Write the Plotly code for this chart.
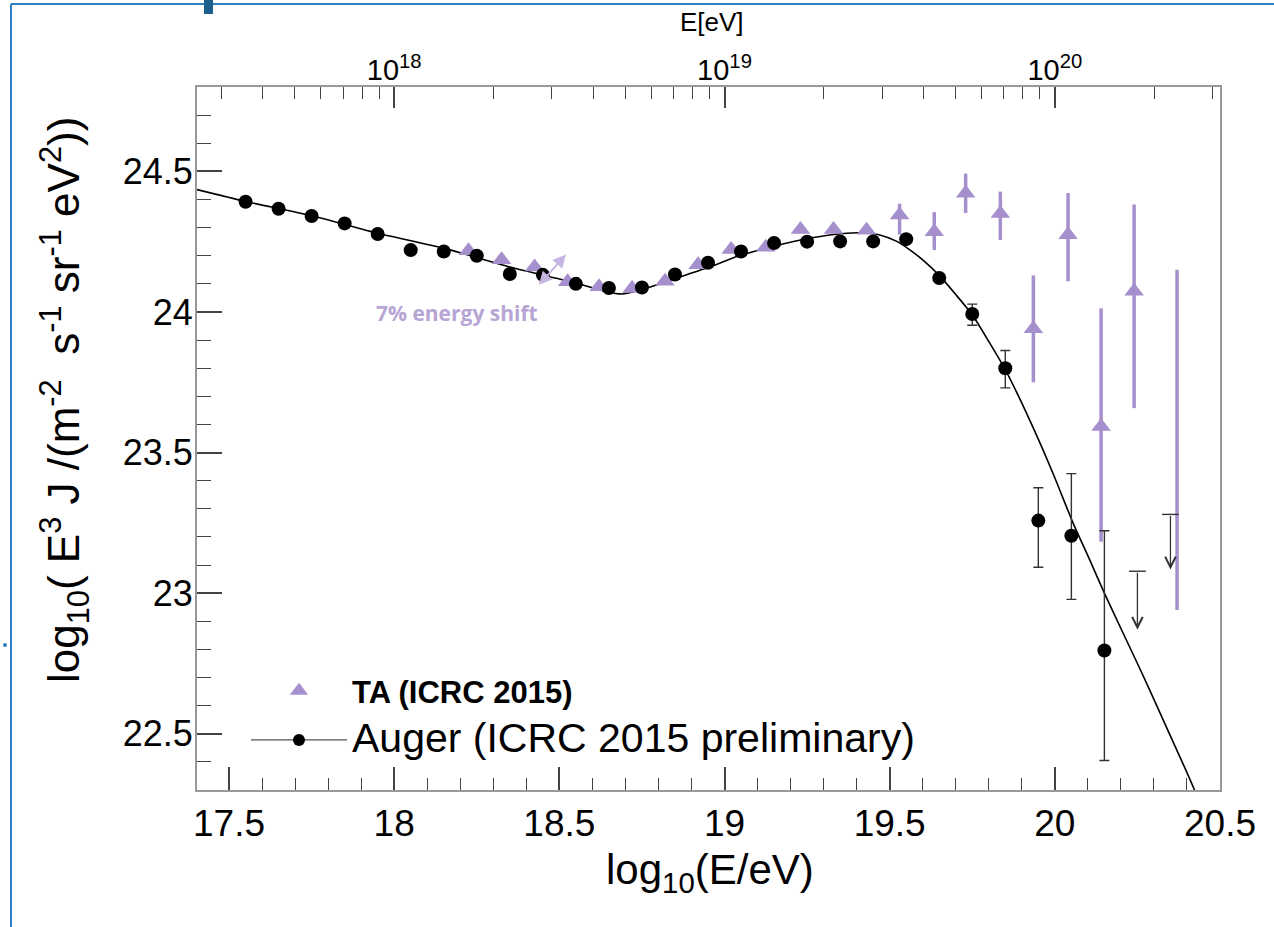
import numpy as np
import plotly.graph_objects as go

# ---------------- data ----------------
auger_x = [17.55, 17.65, 17.75, 17.85, 17.95, 18.05, 18.15, 18.25, 18.35, 18.45,
           18.55, 18.65, 18.75, 18.85, 18.95, 19.05, 19.15, 19.25, 19.35, 19.45,
           19.55, 19.65, 19.75, 19.85, 19.95, 20.05, 20.15]
auger_y = [24.392, 24.367, 24.341, 24.315, 24.277, 24.220, 24.215, 24.200, 24.135, 24.132,
           24.100, 24.085, 24.087, 24.133, 24.175, 24.215, 24.245, 24.250, 24.251, 24.251,
           24.259, 24.121, 23.993, 23.800, 23.258, 23.204, 22.796]
auger_err_up = [0]*22 + [0.035, 0.063, 0.117, 0.221, 0.426]
auger_err_dn = [0]*22 + [0.040, 0.070, 0.166, 0.226, 0.391]

auger_ul_x = [20.25, 20.35]
auger_ul_y = [23.078, 23.280]
auger_ul_tip = [22.870, 23.084]

fit_x = [17.403, 17.55, 17.75, 17.95, 18.15, 18.35, 18.55, 18.64, 18.69, 18.74,
         18.84, 18.95, 19.04, 19.15, 19.26, 19.37, 19.42, 19.47, 19.52, 19.56,
         19.60, 19.65, 19.70, 19.75, 19.80, 19.85, 19.926, 19.993, 20.055, 20.105,
         20.15, 20.205, 20.26, 20.317, 20.373, 20.395, 20.423]
fit_y = [24.435, 24.393, 24.342, 24.280, 24.227, 24.160, 24.103, 24.073, 24.064, 24.076,
         24.115, 24.158, 24.198, 24.234, 24.263, 24.280, 24.281, 24.274, 24.252, 24.222,
         24.185, 24.130, 24.062, 23.990, 23.895, 23.795, 23.610, 23.430, 23.250, 23.120,
         23.000, 22.862, 22.725, 22.578, 22.432, 22.375, 22.300]

ta_x = [18.225, 18.325, 18.425, 18.525, 18.62, 18.72, 18.82, 18.92, 19.02, 19.125,
        19.23, 19.33, 19.43, 19.53, 19.635, 19.73, 19.835, 19.935, 20.04, 20.14,
        20.24, 20.37]
ta_y = [24.218, 24.186, 24.160, 24.107, 24.090, 24.083, 24.109, 24.168, 24.222, 24.230,
        24.293, 24.293, 24.291, 24.345, 24.285, 24.422, 24.350, 23.940, 24.275, 23.593,
        24.074, 23.545]
ta_err_up = [0]*13 + [0.04, 0.070, 0.070, 0.078, 0.190, 0.148, 0.420, 0.308, 0.605]
ta_err_dn = [0]*13 + [0.07, 0.065, 0.070, 0.094, 0.190, 0.166, 0.410, 0.416, 0.605]
ta_marker_opacity = [1]*21 + [0]

x_major = [17.5, 18.0, 18.5, 19.0, 19.5, 20.0, 20.5]
x_major_text = ["17.5", "18", "18.5", "19", "19.5", "20", "20.5"]
y_major = [22.5, 23.0, 23.5, 24.0, 24.5]
y_major_text = ["22.5", "23", "23.5", "24", "24.5"]
top_major = [18, 19, 20]
top_major_text = ["10<sup>18</sup>", "10<sup>19</sup>", "10<sup>20</sup>"]

X_RANGE = [17.403, 20.5]
Y_RANGE = [22.3, 24.8]

FONT = "Liberation Sans, Arial, Helvetica, sans-serif"
TA_COL = "#a58fcc"
FRAME = "#999999"
TICKC = "#444444"

# minor ticks of the top (log E) axis
top_minor = []
for dec in [17, 18, 19, 20]:
    for k in range(2, 10):
        v = dec + np.log10(k)
        if X_RANGE[0] <= v <= X_RANGE[1]:
            top_minor.append(float(v))

fig = go.Figure()

# fit curve
fig.add_trace(go.Scatter(x=fit_x, y=fit_y, mode="lines", line_shape="spline",
                         line=dict(color="black", width=1.6, smoothing=0.6),
                         showlegend=False, hoverinfo="skip"))

# TA points
fig.add_trace(go.Scatter(
    x=ta_x, y=ta_y, mode="markers",
    marker=dict(symbol="triangle-up", size=17, color=TA_COL, opacity=ta_marker_opacity),
    error_y=dict(type="data", symmetric=False, array=ta_err_up, arrayminus=ta_err_dn,
                 color=TA_COL, thickness=3.5, width=0),
    showlegend=False))

# Auger points
fig.add_trace(go.Scatter(
    x=auger_x, y=auger_y, mode="markers",
    marker=dict(symbol="circle", size=14, color="black"),
    error_y=dict(type="data", symmetric=False, array=auger_err_up, arrayminus=auger_err_dn,
                 color="#333333", thickness=1.4, width=5),
    showlegend=False))

# Auger upper-limit caps
fig.add_trace(go.Scatter(
    x=auger_ul_x, y=auger_ul_y, mode="markers",
    marker=dict(symbol="line-ew", size=12, line=dict(color="#333333", width=1.4)),
    showlegend=False))

# legend-only traces
fig.add_trace(go.Scatter(x=[None], y=[None], mode="markers", legendgroup="ta",
                         marker=dict(symbol="triangle-up", size=16, color=TA_COL),
                         name="<span style='font-size:31px'><b>TA (ICRC 2015)</b></span>"))
fig.add_trace(go.Scatter(x=[None], y=[None], mode="lines+markers", legendgroup="auger",
                         marker=dict(symbol="circle", size=12, color="black"),
                         line=dict(color="#555555", width=1.3),
                         name="<span style='font-size:41px'>Auger (ICRC 2015 preliminary)</span>"))

# invisible trace on top axis so it renders
fig.add_trace(go.Scatter(x=X_RANGE, y=Y_RANGE, xaxis="x2", mode="markers",
                         marker=dict(opacity=0), showlegend=False, hoverinfo="skip"))

annotations = []
for x, y1, y0 in zip(auger_ul_x, auger_ul_y, auger_ul_tip):
    annotations.append(dict(x=x, y=y0, ax=x, ay=y1, xref="x", yref="y", axref="x", ayref="y",
                            showarrow=True, arrowhead=5, arrowsize=1.6, arrowwidth=1.3,
                            arrowcolor="#333333", text=""))

# energy shift double arrow
annotations.append(dict(x=18.52, y=24.204, ax=18.434, ay=24.091, xref="x", yref="y",
                        axref="x", ayref="y", showarrow=True, arrowhead=2, startarrowhead=2,
                        arrowside="end+start", arrowsize=1.3, startarrowsize=1.3,
                        arrowwidth=2, arrowcolor="#c6b5e3", text=""))
annotations.append(dict(x=18.19, y=23.996, xref="x", yref="y", showarrow=False,
                        text="<b>7% energy shift</b>",
                        font=dict(family="Open Sans, sans-serif", size=21, color="#b7a5d4")))


def px(xp):
    return (xp - 197) / 1023


def py(yp):
    return (790 - yp) / 703


# axis titles
annotations.append(dict(x=px(710), y=py(872), xref="paper", yref="paper",
                        showarrow=False, text="log<sub>10</sub>(E/eV)",
                        font=dict(family=FONT, size=42, color="black"),
                        xanchor="center", yanchor="middle"))
annotations.append(dict(x=px(64), y=py(400), xref="paper", yref="paper",
                        showarrow=False, textangle=-90,
                        text="log<sub>10</sub>( E<sup>3</sup> J /(m<sup>-2</sup>  s<sup>-1</sup> sr<sup>-1</sup> eV<sup>2</sup>))",
                        font=dict(family=FONT, size=44, color="black"),
                        xanchor="center", yanchor="middle"))
annotations.append(dict(x=px(712), y=py(22), xref="paper", yref="paper",
                        showarrow=False, text="E[eV]",
                        font=dict(family=FONT, size=26, color="black"),
                        xanchor="center", yanchor="middle"))

shapes = [
    dict(type="line", xref="paper", yref="paper", x0=px(11), x1=px(11), y0=py(4), y1=py(927),
         line=dict(color="#2f7fc4", width=2)),
    dict(type="line", xref="paper", yref="paper", x0=px(11), x1=px(1274), y0=py(4), y1=py(4),
         line=dict(color="#2f7fc4", width=2)),
    dict(type="rect", xref="paper", yref="paper", x0=px(204), x1=px(213), y0=py(0), y1=py(14),
         line=dict(width=0), fillcolor="#1b5f8c"),
    dict(type="circle", xref="paper", yref="paper", x0=px(3), x1=px(7), y0=py(643), y1=py(647),
         line=dict(width=0), fillcolor="#2f7fc4"),
]

fig.update_layout(
    width=1274, height=927,
    margin=dict(l=197, r=54, t=87, b=137),
    paper_bgcolor="white", plot_bgcolor="white",
    font=dict(family=FONT, color="black"),
    xaxis=dict(range=X_RANGE, showgrid=False, zeroline=False,
               showline=True, linecolor=FRAME, linewidth=2, mirror=True,
               ticks="inside", ticklen=23, tickwidth=1.5, tickcolor=TICKC,
               tickmode="array", tickvals=x_major, ticktext=x_major_text,
               tickfont=dict(family=FONT, size=37),
               minor=dict(dtick=0.1, tick0=17.5, ticks="inside", ticklen=12,
                          tickwidth=1.2, tickcolor=TICKC, showgrid=False)),
    xaxis2=dict(range=X_RANGE, overlaying="x", side="top", anchor="y",
                showgrid=False, zeroline=False, showline=False,
                ticks="inside", ticklen=21, tickwidth=1.5, tickcolor=TICKC,
                tickmode="array", tickvals=top_major, ticktext=top_major_text,
                tickfont=dict(family=FONT, size=29),
                minor=dict(tickmode="array", tickvals=top_minor, ticks="inside",
                           ticklen=12, tickwidth=1.2, tickcolor=TICKC, showgrid=False)),
    yaxis=dict(range=Y_RANGE, showgrid=False, zeroline=False,
               showline=True, linecolor=FRAME, linewidth=2, mirror=True,
               ticks="inside", ticklen=25, tickwidth=1.5, tickcolor=TICKC,
               tickmode="array", tickvals=y_major, ticktext=y_major_text,
               tickfont=dict(family=FONT, size=36), ticklabelstandoff=-5,
               minor=dict(dtick=0.1, tick0=22.5, ticks="inside", ticklen=14,
                          tickwidth=1.2, tickcolor=TICKC, showgrid=False)),
    legend=dict(x=px(246), y=py(664), xanchor="left", yanchor="top",
                bgcolor="rgba(0,0,0,0)", itemwidth=96, tracegroupgap=6,
                font=dict(family=FONT, size=31, color="black")),
    annotations=annotations,
    shapes=shapes,
)

fig.write_html("out.html")
